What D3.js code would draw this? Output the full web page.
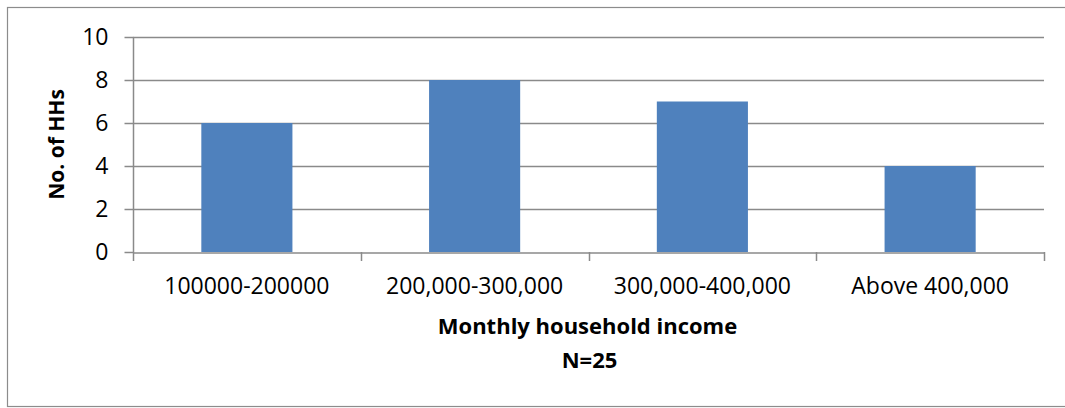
<!DOCTYPE html>
<html>
<head>
<meta charset="utf-8">
<script src="https://cdn.jsdelivr.net/npm/d3@7"></script>
<style>
  html, body { margin: 0; padding: 0; background: #fff; }
  svg { display: block; }
  text { font-family: "Open Sans", "Noto Sans", sans-serif; fill: #000; }
</style>
</head>
<body>
<svg id="chart" width="1065" height="408"></svg>
<script>
const categories = ["100000-200000", "200,000-300,000", "300,000-400,000", "Above 400,000"];
const values = [6, 8, 7, 4];
const yTicks = [0, 2, 4, 6, 8, 10];
const xTitle = "Monthly household income";
const xSubtitle = "N=25";
const yTitle = "No. of HHs";

const svg = d3.select("#chart");
const W = 1065, H = 408;
const plot = { left: 133, right: 1044, top: 37, bottom: 252 };

// chart border
svg.append("rect")
  .attr("x", 7.5).attr("y", 7.5)
  .attr("width", W + 10).attr("height", 399)
  .attr("fill", "none").attr("stroke", "#8c8c8c").attr("stroke-width", 1.2);

const x = d3.scaleBand().domain(categories).range([plot.left, plot.right]).padding(0);
const y = d3.scaleLinear().domain([0, 10]).range([plot.bottom, plot.top]);

// gridlines
svg.append("g").selectAll("line")
  .data(yTicks.filter(d => d > 0))
  .join("line")
  .attr("x1", plot.left).attr("x2", plot.right)
  .attr("y1", d => Math.round(y(d)) + 0.5).attr("y2", d => Math.round(y(d)) + 0.5)
  .attr("stroke", "#8a8a8a").attr("stroke-width", 1.5);

// bars
const barW = x.bandwidth() * 0.4;
svg.append("g").selectAll("rect")
  .data(values)
  .join("rect")
  .attr("x", (d, i) => x(categories[i]) + (x.bandwidth() - barW) / 2)
  .attr("y", d => y(d))
  .attr("width", barW)
  .attr("height", d => y(0) - y(d))
  .attr("fill", "#4F81BD");

// y axis
const yAxis = svg.append("g").attr("transform", `translate(${plot.left + 0.5},0)`)
  .call(d3.axisLeft(y).tickValues(yTicks).tickSize(9).tickPadding(16).tickFormat(d3.format("d")));
yAxis.select(".domain").attr("stroke", "#8a8a8a").attr("stroke-width", 1.5).attr("d", `M0,${plot.top}V${plot.bottom}`);
yAxis.selectAll(".tick line").attr("stroke", "#8a8a8a").attr("stroke-width", 1.5);
yAxis.selectAll(".tick text").attr("font-size", 23).attr("font-family", "Open Sans").attr("fill", "#000");

// x axis
const xAxis = svg.append("g").attr("transform", `translate(0,${plot.bottom + 0.5})`)
  .call(d3.axisBottom(x).tickSize(0).tickPadding(25));
xAxis.select(".domain").attr("stroke", "#8a8a8a").attr("stroke-width", 1.5);
xAxis.selectAll(".tick text").attr("font-size", 23).attr("font-family", "Open Sans").attr("fill", "#000");
// category boundary ticks
const bounds = categories.map(c => x(c)).concat([x(categories[categories.length - 1]) + x.bandwidth()]);
svg.append("g").selectAll("line").data(bounds).join("line")
  .attr("x1", d => Math.round(d) + 0.5).attr("x2", d => Math.round(d) + 0.5)
  .attr("y1", plot.bottom).attr("y2", plot.bottom + 9)
  .attr("stroke", "#8a8a8a").attr("stroke-width", 1.5);

// titles
const cx = (plot.left + plot.right) / 2 - 1;
svg.append("text").attr("x", cx).attr("y", 334)
  .attr("text-anchor", "middle").attr("font-weight", "bold").attr("font-size", 22)
  .text(xTitle);
svg.append("text").attr("x", cx + 2).attr("y", 368)
  .attr("text-anchor", "middle").attr("font-weight", "bold").attr("font-size", 22)
  .text(xSubtitle);
svg.append("text")
  .attr("transform", `translate(64,${(plot.top + plot.bottom) / 2}) rotate(-90)`)
  .attr("text-anchor", "middle").attr("font-weight", "bold").attr("font-size", 21)
  .text(yTitle);
</script>
</body>
</html>
